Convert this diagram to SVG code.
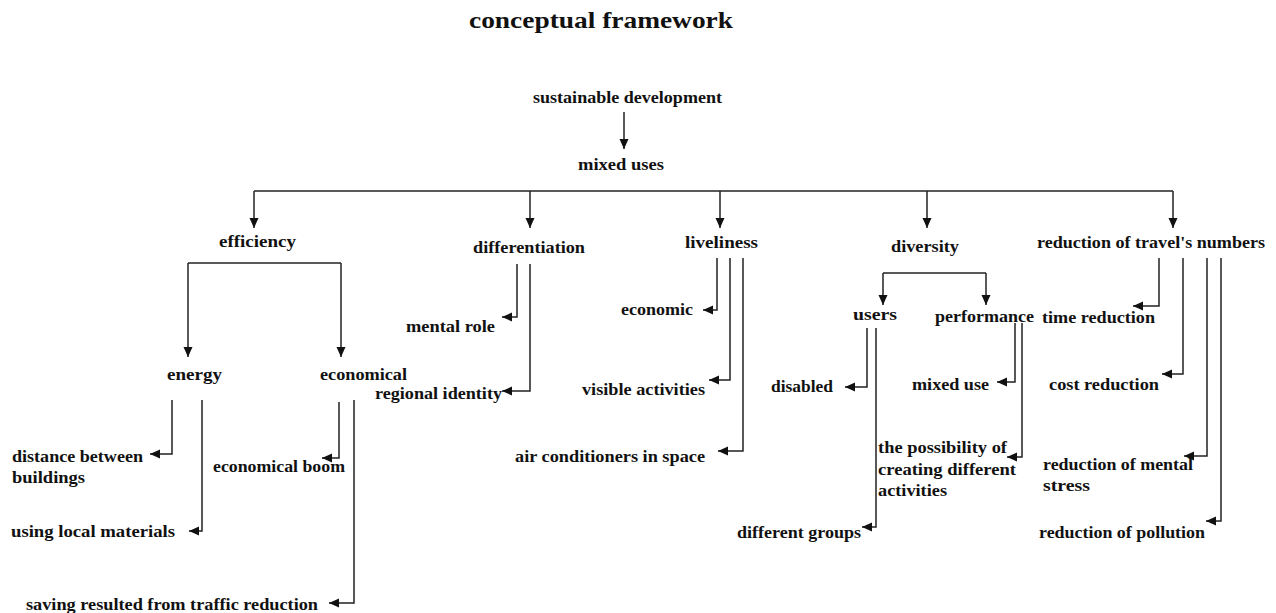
<svg xmlns="http://www.w3.org/2000/svg" width="1276" height="613" viewBox="0 0 1276 613">
<style>
text{font-family:"Liberation Serif","Times New Roman",serif;font-weight:bold;font-size:16px;fill:#111}
.title{font-size:24px}
.c{fill:none;stroke:#222;stroke-width:1.5}
</style>
<defs>
<marker id="ah" markerUnits="userSpaceOnUse" markerWidth="11" markerHeight="10" refX="10" refY="4.5" orient="auto">
<path d="M0,0 L10,4.5 L0,9 z" fill="#111"/>
</marker>
</defs>
<rect width="1276" height="613" fill="#fff"/>
<g id="title"><text class="title" x="469" y="28" textLength="264" lengthAdjust="spacingAndGlyphs">conceptual framework</text></g>

<g id="connectors">
<path class="c" d="M624,112 V149" marker-end="url(#ah)"/>
<path class="c" d="M254,191 H1173"/>
<path class="c" d="M254,191 V228" marker-end="url(#ah)"/>
<path class="c" d="M530,191 V228" marker-end="url(#ah)"/>
<path class="c" d="M720,191 V228" marker-end="url(#ah)"/>
<path class="c" d="M927,191 V228" marker-end="url(#ah)"/>
<path class="c" d="M1173,191 V228" marker-end="url(#ah)"/>
<!-- efficiency -->
<path class="c" d="M188,263 H341"/>
<path class="c" d="M188,263 V357" marker-end="url(#ah)"/>
<path class="c" d="M341,263 V357" marker-end="url(#ah)"/>
<!-- energy -->
<path class="c" d="M172,400 V454 H150" marker-end="url(#ah)"/>
<path class="c" d="M202,400 V531 H189" marker-end="url(#ah)"/>
<!-- economical -->
<path class="c" d="M339,402 V458 H322" marker-end="url(#ah)"/>
<path class="c" d="M354,400 V603 H329" marker-end="url(#ah)"/>
<!-- differentiation -->
<path class="c" d="M517,264 V317 H502" marker-end="url(#ah)"/>
<path class="c" d="M530,264 V391 H502" marker-end="url(#ah)"/>
<!-- liveliness -->
<path class="c" d="M717,258 V310 H703" marker-end="url(#ah)"/>
<path class="c" d="M730,258 V380 H709" marker-end="url(#ah)"/>
<path class="c" d="M743,258 V451 H718" marker-end="url(#ah)"/>
<!-- diversity -->
<path class="c" d="M883,273 H986"/>
<path class="c" d="M883,273 V305" marker-end="url(#ah)"/>
<path class="c" d="M986,273 V305" marker-end="url(#ah)"/>
<!-- users -->
<path class="c" d="M867,328 V387 H845" marker-end="url(#ah)"/>
<path class="c" d="M876,328 V527 H862" marker-end="url(#ah)"/>
<!-- performance -->
<path class="c" d="M1015,323 V382 H997" marker-end="url(#ah)"/>
<path class="c" d="M1022,323 V457 H1007" marker-end="url(#ah)"/>
<!-- reduction -->
<path class="c" d="M1159,258 V306 H1133" marker-end="url(#ah)"/>
<path class="c" d="M1183,258 V374 H1162" marker-end="url(#ah)"/>
<path class="c" d="M1207,258 V456 H1184" marker-end="url(#ah)"/>
<path class="c" d="M1221,258 V521 H1206" marker-end="url(#ah)"/>
</g>

<g id="sustainable-development"><text x="533" y="103" textLength="189" lengthAdjust="spacingAndGlyphs">sustainable development</text></g>
<g id="mixed-uses"><text x="578" y="170" textLength="86" lengthAdjust="spacingAndGlyphs">mixed uses</text></g>
<g id="efficiency"><text x="219" y="247" textLength="77" lengthAdjust="spacingAndGlyphs">efficiency</text></g>
<g id="differentiation"><text x="473" y="253" textLength="112" lengthAdjust="spacingAndGlyphs">differentiation</text></g>
<g id="liveliness"><text x="685" y="248" textLength="73" lengthAdjust="spacingAndGlyphs">liveliness</text></g>
<g id="diversity"><text x="891" y="252" textLength="68" lengthAdjust="spacingAndGlyphs">diversity</text></g>
<g id="reduction-travel"><text x="1037" y="248" textLength="228" lengthAdjust="spacingAndGlyphs">reduction of travel's numbers</text></g>
<g id="energy"><text x="167" y="380" textLength="55" lengthAdjust="spacingAndGlyphs">energy</text></g>
<g id="economical"><text x="320" y="380" textLength="87" lengthAdjust="spacingAndGlyphs">economical</text></g>
<g id="regional-identity"><text x="375" y="399" textLength="127" lengthAdjust="spacingAndGlyphs">regional identity</text></g>
<g id="distance-between-buildings"><text x="12" y="462" textLength="131" lengthAdjust="spacingAndGlyphs">distance between</text><text x="12" y="483" textLength="73" lengthAdjust="spacingAndGlyphs">buildings</text></g>
<g id="using-local-materials"><text x="11" y="537" textLength="164" lengthAdjust="spacingAndGlyphs">using local materials</text></g>
<g id="economical-boom"><text x="213" y="472" textLength="132" lengthAdjust="spacingAndGlyphs">economical boom</text></g>
<g id="saving"><text x="26" y="610" textLength="292" lengthAdjust="spacingAndGlyphs">saving resulted from traffic reduction</text></g>
<g id="mental-role"><text x="406" y="332" textLength="89" lengthAdjust="spacingAndGlyphs">mental role</text></g>
<g id="economic"><text x="621" y="315" textLength="72" lengthAdjust="spacingAndGlyphs">economic</text></g>
<g id="visible-activities"><text x="582" y="395" textLength="123" lengthAdjust="spacingAndGlyphs">visible activities</text></g>
<g id="air-conditioners"><text x="515" y="462" textLength="190" lengthAdjust="spacingAndGlyphs">air conditioners in space</text></g>
<g id="users"><text x="853" y="320" textLength="44" lengthAdjust="spacingAndGlyphs">users</text></g>
<g id="performance"><text x="935" y="322" textLength="99" lengthAdjust="spacingAndGlyphs">performance</text></g>
<g id="disabled"><text x="771" y="392" textLength="62" lengthAdjust="spacingAndGlyphs">disabled</text></g>
<g id="different-groups"><text x="737" y="538" textLength="124" lengthAdjust="spacingAndGlyphs">different groups</text></g>
<g id="mixed-use"><text x="912" y="390" textLength="77" lengthAdjust="spacingAndGlyphs">mixed use</text></g>
<g id="possibility"><text x="878" y="453" textLength="129" lengthAdjust="spacingAndGlyphs">the possibility of</text><text x="878" y="475" textLength="138" lengthAdjust="spacingAndGlyphs">creating different</text><text x="878" y="496" textLength="69" lengthAdjust="spacingAndGlyphs">activities</text></g>
<g id="time-reduction"><text x="1042" y="323" textLength="113" lengthAdjust="spacingAndGlyphs">time reduction</text></g>
<g id="cost-reduction"><text x="1049" y="390" textLength="110" lengthAdjust="spacingAndGlyphs">cost reduction</text></g>
<g id="mental-stress"><text x="1043" y="470" textLength="150" lengthAdjust="spacingAndGlyphs">reduction of mental</text><text x="1043" y="491" textLength="47" lengthAdjust="spacingAndGlyphs">stress</text></g>
<g id="pollution"><text x="1039" y="538" textLength="166" lengthAdjust="spacingAndGlyphs">reduction of pollution</text></g>
</svg>
